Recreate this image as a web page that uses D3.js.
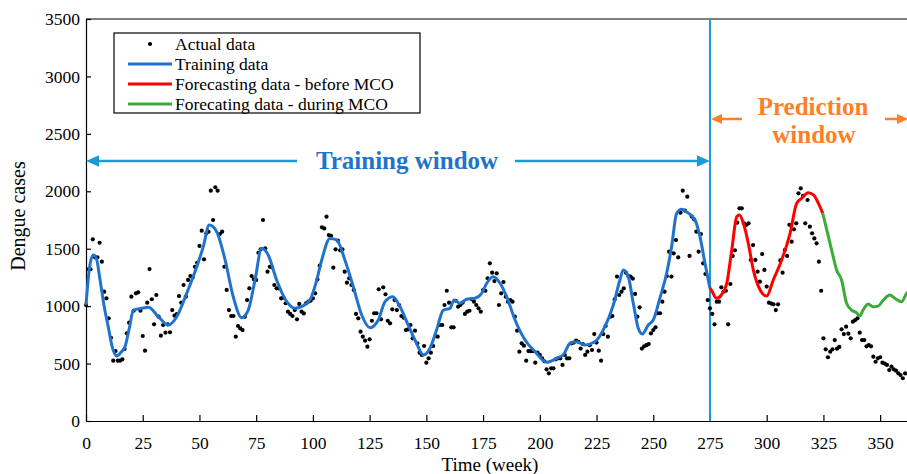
<!DOCTYPE html>
<html><head><meta charset="utf-8">
<script src="https://cdn.jsdelivr.net/npm/d3@7"></script>
<style>body{margin:0;background:#fff}svg{display:block}svg text{font-family:'Liberation Serif','Times New Roman',serif}</style>
</head><body>
<svg id="chart" width="907" height="474"></svg>
<script>
// ---- data (weekly dengue cases; week = array index) ----
const actualCases = [
 1010,1321,1321,1582,1425,1425,1552,1387,1126,1068,
 894,725,525,609,525,525,537,627,763,856,
 1082,960,1112,1120,960,740,612,1030,1323,1060,
 842,1097,908,743,836,769,842,772,966,917,
 930,1088,1030,1184,1082,1228,1262,1250,1343,1378,
 1524,1657,1408,1634,1648,2005,1750,2035,2005,1628,
 1648,1343,1141,966,914,914,734,827,806,792,
 908,1053,1155,1262,1233,1228,1465,1495,1750,1504,
 1300,1343,1337,1184,1155,1155,1068,1074,1025,952,
 932,914,966,885,1019,952,937,1025,1039,1047,
 1068,1112,1233,1352,1686,1677,1779,1619,1613,1335,
 1495,1570,1486,1495,1300,1204,1242,1184,1141,932,
 894,778,734,699,647,711,873,938,938,1147,
 885,1164,1103,873,850,972,1053,966,1010,914,
 900,792,798,836,720,786,676,595,575,653,
 508,546,595,653,740,734,836,836,1010,1134,
 1030,816,816,1047,995,1010,1030,932,952,960,
 1060,1039,1010,981,952,1140,1134,1242,1373,1291,
 1218,1286,1010,1112,1210,1082,1039,1053,1039,908,
 786,604,676,656,525,609,609,609,508,595,
 575,546,520,450,415,459,459,537,546,546,
 488,575,546,546,676,683,700,690,631,670,
 575,604,660,618,757,683,612,525,757,827,
 734,908,914,1060,1257,1097,1126,1155,1290,1262,
 1257,1240,1106,908,990,631,650,660,670,763,
 792,816,938,938,1039,1126,1262,1474,1257,1460,
 1576,1425,1814,2005,1831,1953,1437,1780,1756,1648,
 1474,1628,1373,1280,1053,981,932,842,1039,1039,
 1164,1126,1134,842,1193,1437,1486,1727,1852,1852,
 1721,1708,1721,1402,1532,1402,1300,1213,1454,1315,
 1170,1030,1022,1016,966,1016,1398,1291,1489,1437,
 1708,1561,1669,1721,1982,2026,1960,1721,1924,1692,
 1634,1590,1547,1387,1134,720,624,555,604,624,
 705,630,645,798,757,821,760,720,865,879,
 894,769,705,705,650,660,650,560,516,546,
 555,508,500,488,444,473,450,438,415,400,
 372,415
];

const trainWeeks = [0,1.5,3.2,4.5,6.2,8,9.8,11.5,13.5,15.5,17.2,19,20.9,24.5,27.5,31.9,36.3,40,44.4,48.8,
 51.7,54.3,57.6,61.3,64.9,68.6,71.5,74.5,77.4,80.3,84,88.5,92.1,95,98.7,101.7,103.9,107.5,110.5,114.1,
 117.8,121.5,125.2,128.8,131.8,135.2,138.4,142,145.7,148.7,151.6,154.5,157.5,160.4,162.2,164.8,167.8,171.4,174.4,176.6,
 179.5,182.5,185.4,189.1,193.5,197.9,203,207.5,210.5,213.3,216.2,219.9,224.3,228.7,232.4,235.3,236.8,239,241.2,243.4,
 245.2,247.8,250,252.9,255.9,258.1,260.3,262.5,264.7,268.4,270.6,272.8,275];
const trainCases = [1010,1330,1445,1420,1228,1000,821,650,566,600,647,800,966,981,990,908,836,908,1112,1343,
 1518,1706,1648,1402,1082,900,966,1228,1504,1445,1228,1039,981,995,1053,1228,1402,1590,1576,1402,
 1170,923,812,879,1039,1082,995,836,676,575,633,792,966,981,1053,1025,1060,1068,1112,1199,
 1256,1199,1082,879,705,604,511,546,580,676,690,662,690,821,1010,1228,1315,1257,1025,807,
 757,836,879,1068,1286,1518,1808,1843,1820,1750,1605,1373,1155];

const beforeWeeks = [275,275.6,277.9,280,282.4,284.6,286.8,288,289.7,291.9,294.1,297.1,300,302.9,306.6,310.3,313.2,315.4,318.3,320.6,322.8,324.7];
const beforeCases = [1155,1141,1068,1097,1199,1489,1779,1793,1721,1547,1315,1141,1088,1228,1402,1634,1895,1939,1988,1968,1895,1808];

const duringWeeks = [324.7,327.2,329.3,330.8,333,335.2,337.4,339.6,341,342.5,344.7,346.9,349.1,351.4,354.3,356.5,359.5,361.7,363];
const duringCases = [1808,1605,1431,1315,1228,1025,966,943,914,966,1019,995,1000,1053,1097,1068,1039,1112,1130];

const xTicks = [0,25,50,75,100,125,150,175,200,225,250,275,300,325,350];
const yTicks = [0,500,1000,1500,2000,2500,3000,3500];
const legendLabels = ["Actual data","Training data","Forecasting data - before MCO","Forecating data - during MCO"];
const splitWeek = 275;

// ---- drawing ----
const svg = d3.select("#chart");
const FONT = "'Liberation Serif','Times New Roman',serif";
const x = d3.scaleLinear().domain([0,400]).range([86, 86 + 2.269*400]);
const y = d3.scaleLinear().domain([0,3500]).range([421,19]);

svg.append("rect").attr("width",907).attr("height",474).attr("fill","#fff");

// frame top
svg.append("line").attr("x1",x(0)).attr("x2",x(400)).attr("y1",y(3500)).attr("y2",y(3500))
  .attr("stroke","#000").attr("stroke-width",1.2);

const xAxis = svg.append("g").attr("transform",`translate(0,${y(0)})`)
  .call(d3.axisBottom(x).tickValues(xTicks).tickFormat(d3.format("d")).tickSizeInner(-6).tickSizeOuter(0).tickPadding(16));
const yAxis = svg.append("g").attr("transform",`translate(${x(0)},0)`)
  .call(d3.axisLeft(y).tickValues(yTicks).tickFormat(d3.format("d")).tickSizeInner(-5).tickSizeOuter(0).tickPadding(6));
[xAxis,yAxis].forEach(g=>{
  g.attr("font-family",FONT);
  g.selectAll("path,line").attr("stroke","#000").attr("stroke-width",1.2);
  g.selectAll("text").style("font-family",FONT).attr("font-size",17.5).attr("fill","#000");
});

svg.append("text").attr("x",490).attr("y",471).attr("text-anchor","middle")
  .attr("font-family",FONT).attr("font-size",19).text("Time (week)");
svg.append("text").attr("transform","translate(25,216) rotate(-90)").attr("text-anchor","middle")
  .attr("font-family",FONT).attr("font-size",20).text("Dengue cases");

// vertical split line
const lightBlue = "#1b9ad6";
svg.append("line").attr("x1",x(splitWeek)).attr("x2",x(splitWeek)).attr("y1",y(3500)).attr("y2",y(0))
  .attr("stroke",lightBlue).attr("stroke-width",2);

// actual dots
svg.append("g").selectAll("circle").data(actualCases).join("circle")
  .attr("cx",(d,i)=>x(i)).attr("cy",d=>y(d)).attr("r",2.1).attr("fill","#000");

const line = d3.line().x(d=>x(d[0])).y(d=>y(d[1])).curve(d3.curveMonotoneX);
const series = [
  {w:trainWeeks, c:trainCases, col:"#1f73cc"},
  {w:beforeWeeks, c:beforeCases, col:"#ff0000"},
  {w:duringWeeks, c:duringCases, col:"#3cab39"}
];
series.forEach(s=>{
  svg.append("path").datum(s.w.map((w,i)=>[w,s.c[i]])).attr("d",line)
    .attr("fill","none").attr("stroke",s.col).attr("stroke-width",3).attr("stroke-linejoin","round");
});

// arrows
function arrow(x1,x2,yy,col,head){
  svg.append("line").attr("x1",x1).attr("x2",x2 - Math.sign(x2-x1)*6).attr("y1",yy).attr("y2",yy)
    .attr("stroke",col).attr("stroke-width",2.5);
  const d = Math.sign(x2-x1);
  svg.append("path").attr("d",`M${x2},${yy}L${x2-d*head},${yy-head*0.45}L${x2-d*head},${yy+head*0.45}Z`).attr("fill",col);
}
const tY = 161;
arrow(297, x(0), tY, lightBlue, 13);
arrow(515, x(splitWeek), tY, lightBlue, 13);
svg.append("text").attr("x",407).attr("y",169).attr("text-anchor","middle")
  .attr("font-family",FONT).attr("font-size",25).attr("font-weight","bold").attr("fill","#1f74c9")
  .text("Training window");

const orange = "#ff7f27";
arrow(742, x(splitWeek)+1, 119, orange, 11);
arrow(885, 908, 119, orange, 11);
const pt = svg.append("text").attr("text-anchor","middle").attr("font-family",FONT)
  .attr("font-size",25).attr("font-weight","bold").attr("fill",orange);
pt.append("tspan").attr("x",813).attr("y",115).text("Prediction");
pt.append("tspan").attr("x",814).attr("y",143).text("window");

// legend
const lg = svg.append("g");
lg.append("rect").attr("x",114).attr("y",33).attr("width",306).attr("height",80)
  .attr("fill","#fff").attr("stroke","#000").attr("stroke-width",1.2);
const rowY = [44,64,84,104];
const legCols = [null,"#1f73cc","#ff0000","#3cab39"];
legendLabels.forEach((t,i)=>{
  if(i===0){
    lg.append("circle").attr("cx",150).attr("cy",rowY[i]).attr("r",2.1).attr("fill","#000");
  } else {
    lg.append("line").attr("x1",128).attr("x2",172).attr("y1",rowY[i]).attr("y2",rowY[i])
      .attr("stroke",legCols[i]).attr("stroke-width",3);
  }
  lg.append("text").attr("x",175).attr("y",rowY[i]).attr("dy","0.33em")
    .attr("font-family",FONT).attr("font-size",17.5).text(t);
});
</script>
</body></html>
